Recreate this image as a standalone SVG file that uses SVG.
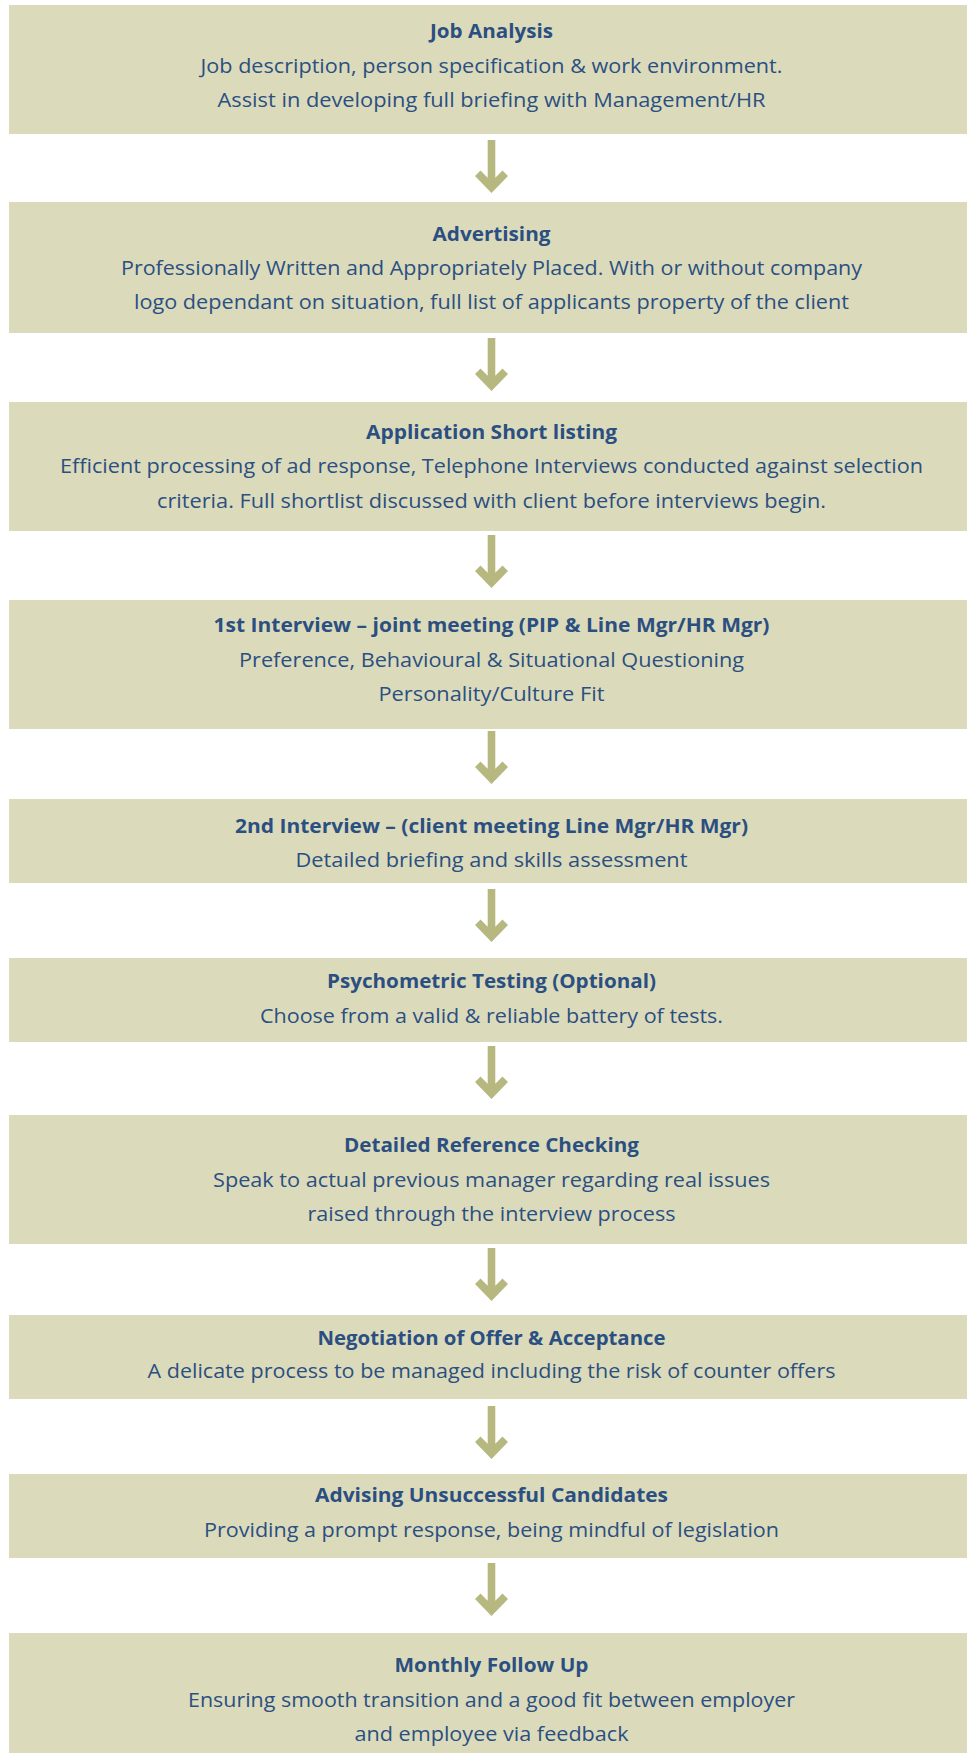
<svg xmlns="http://www.w3.org/2000/svg" width="967" height="1753" viewBox="0 0 967 1753">
<style>
.box{fill:#dbdbbb}
.t{font-family:"Open Sans","Noto Sans","Liberation Sans",sans-serif;font-size:20px;font-weight:700;fill:#2b4f81;text-anchor:middle}
.d{font-family:"Open Sans","Noto Sans","Liberation Sans",sans-serif;font-size:20px;font-weight:400;fill:#2b4f81;text-anchor:middle}
.arr{fill:#b6b880}
</style>
<defs>
<path id="head" d="M0,0 L-16.5,-17 L-11,-22.5 L-3.8,-15.3 L-3.8,-53 L3.8,-53 L3.8,-15.3 L11,-22.5 L16.5,-17 Z"/>
</defs>
<rect width="967" height="1753" fill="#ffffff"/>
<g id="connectors" class="arr">
<use href="#head" x="491.5" y="193"/>
<use href="#head" x="491.5" y="391"/>
<use href="#head" x="491.5" y="588"/>
<use href="#head" x="491.5" y="784"/>
<use href="#head" x="491.5" y="942"/>
<use href="#head" x="491.5" y="1099"/>
<use href="#head" x="491.5" y="1301"/>
<use href="#head" x="491.5" y="1459"/>
<use href="#head" x="491.5" y="1616"/>
</g>
<g id="job-analysis">
<rect class="box" x="9" y="5" width="958" height="129"/>
<text class="t" x="491.5" y="38" textLength="123" lengthAdjust="spacingAndGlyphs">Job Analysis</text>
<text class="d" x="491.5" y="73" textLength="582" lengthAdjust="spacingAndGlyphs">Job description, person specification &amp; work environment.</text>
<text class="d" x="491.5" y="107" textLength="548" lengthAdjust="spacingAndGlyphs">Assist in developing full briefing with Management/HR</text>
</g>
<g id="advertising">
<rect class="box" x="9" y="202" width="958" height="131"/>
<text class="t" x="491.5" y="241" textLength="118" lengthAdjust="spacingAndGlyphs">Advertising</text>
<text class="d" x="491.5" y="275" textLength="741" lengthAdjust="spacingAndGlyphs">Professionally Written and Appropriately Placed. With or without company</text>
<text class="d" x="491.5" y="309" textLength="715" lengthAdjust="spacingAndGlyphs">logo dependant on situation, full list of applicants property of the client</text>
</g>
<g id="application-short-listing">
<rect class="box" x="9" y="402" width="958" height="129"/>
<text class="t" x="491.5" y="439" textLength="251" lengthAdjust="spacingAndGlyphs">Application Short listing</text>
<text class="d" x="491.5" y="473" textLength="863" lengthAdjust="spacingAndGlyphs">Efficient processing of ad response, Telephone Interviews conducted against selection</text>
<text class="d" x="491.5" y="508" textLength="669" lengthAdjust="spacingAndGlyphs">criteria. Full shortlist discussed with client before interviews begin.</text>
</g>
<g id="first-interview">
<rect class="box" x="9" y="600" width="958" height="129"/>
<text class="t" x="491.5" y="632" textLength="556" lengthAdjust="spacingAndGlyphs">1st Interview – joint meeting (PIP &amp; Line Mgr/HR Mgr)</text>
<text class="d" x="491.5" y="667" textLength="505" lengthAdjust="spacingAndGlyphs">Preference, Behavioural &amp; Situational Questioning</text>
<text class="d" x="491.5" y="701" textLength="226" lengthAdjust="spacingAndGlyphs">Personality/Culture Fit</text>
</g>
<g id="second-interview">
<rect class="box" x="9" y="799" width="958" height="84"/>
<text class="t" x="491.5" y="833" textLength="513" lengthAdjust="spacingAndGlyphs">2nd Interview – (client meeting Line Mgr/HR Mgr)</text>
<text class="d" x="491.5" y="867" textLength="392" lengthAdjust="spacingAndGlyphs">Detailed briefing and skills assessment</text>
</g>
<g id="psychometric-testing">
<rect class="box" x="9" y="958" width="958" height="84"/>
<text class="t" x="491.5" y="988" textLength="329" lengthAdjust="spacingAndGlyphs">Psychometric Testing (Optional)</text>
<text class="d" x="491.5" y="1023" textLength="463" lengthAdjust="spacingAndGlyphs">Choose from a valid &amp; reliable battery of tests.</text>
</g>
<g id="reference-checking">
<rect class="box" x="9" y="1115" width="958" height="129"/>
<text class="t" x="491.5" y="1152" textLength="295" lengthAdjust="spacingAndGlyphs">Detailed Reference Checking</text>
<text class="d" x="491.5" y="1187" textLength="557" lengthAdjust="spacingAndGlyphs">Speak to actual previous manager regarding real issues</text>
<text class="d" x="491.5" y="1221" textLength="368" lengthAdjust="spacingAndGlyphs">raised through the interview process</text>
</g>
<g id="negotiation">
<rect class="box" x="9" y="1315" width="958" height="84"/>
<text class="t" x="491.5" y="1345" textLength="348" lengthAdjust="spacingAndGlyphs">Negotiation of Offer &amp; Acceptance</text>
<text class="d" x="491.5" y="1378" textLength="688" lengthAdjust="spacingAndGlyphs">A delicate process to be managed including the risk of counter offers</text>
</g>
<g id="advising-unsuccessful">
<rect class="box" x="9" y="1474" width="958" height="84"/>
<text class="t" x="491.5" y="1502" textLength="353" lengthAdjust="spacingAndGlyphs">Advising Unsuccessful Candidates</text>
<text class="d" x="491.5" y="1537" textLength="575" lengthAdjust="spacingAndGlyphs">Providing a prompt response, being mindful of legislation</text>
</g>
<g id="monthly-follow-up">
<rect class="box" x="9" y="1633" width="958" height="120"/>
<text class="t" x="491.5" y="1672" textLength="194" lengthAdjust="spacingAndGlyphs">Monthly Follow Up</text>
<text class="d" x="491.5" y="1707" textLength="607" lengthAdjust="spacingAndGlyphs">Ensuring smooth transition and a good fit between employer</text>
<text class="d" x="491.5" y="1741" textLength="274" lengthAdjust="spacingAndGlyphs">and employee via feedback</text>
</g>
</svg>
